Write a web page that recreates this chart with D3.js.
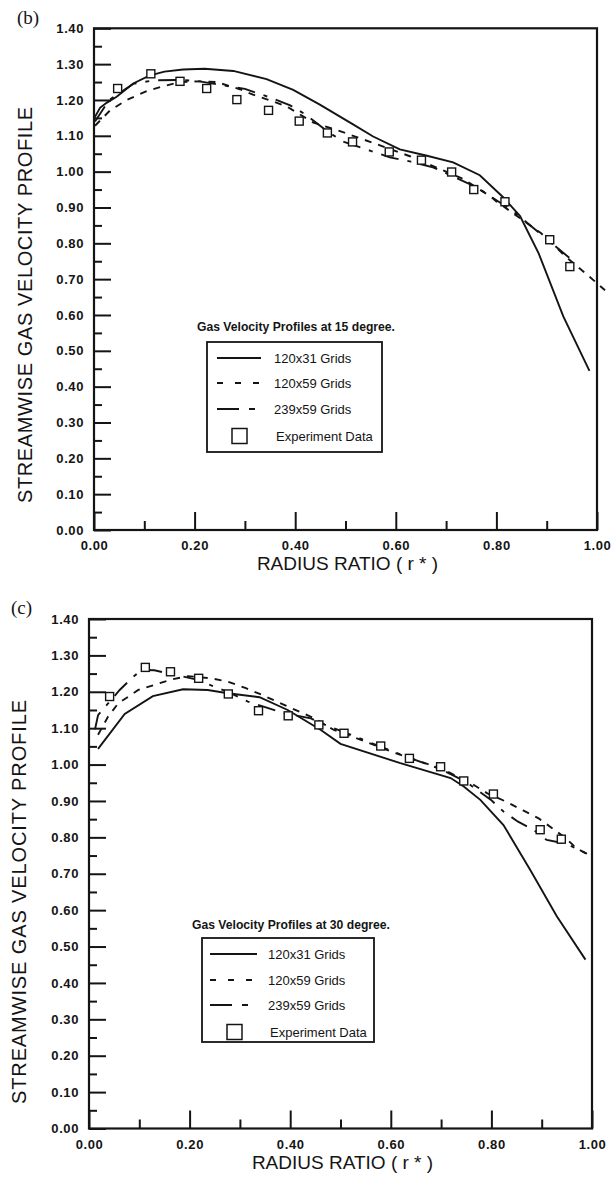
<!DOCTYPE html>
<html>
<head>
<meta charset="utf-8">
<script src="https://cdn.jsdelivr.net/npm/d3@7"></script>
<style>
  html, body { margin: 0; padding: 0; background: #fff; }
  svg { display: block; font-family: "Liberation Sans", Arial, sans-serif; }
</style>
</head>
<body>
<svg id="fig" width="615" height="1177"></svg>
<script>
// Axis ticks
const yMajor = [0, 0.1, 0.2, 0.3, 0.4, 0.5, 0.6, 0.7, 0.8, 0.9, 1.0, 1.1, 1.2, 1.3, 1.4];
const yMinor = [0.05, 0.15, 0.25, 0.35, 0.45, 0.55, 0.65, 0.75, 0.85, 0.95, 1.05, 1.15, 1.25, 1.35];
const xMajor = [0, 0.2, 0.4, 0.6, 0.8, 1.0];
const xMinor = [0.1, 0.3, 0.5, 0.7, 0.9];

const seriesNames = ["120x31 Grids", "120x59 Grids", "239x59 Grids", "Experiment Data"];

// 15 degree profiles: [radius ratio, velocity]
const grid120x31_15 = [[0,1.148],[0.012,1.178],[0.025,1.192],[0.045,1.209],[0.078,1.246],[0.11,1.268],[0.14,1.279],[0.177,1.285],[0.22,1.287],[0.277,1.281],[0.343,1.258],[0.396,1.228],[0.449,1.187],[0.515,1.132],[0.555,1.098],[0.608,1.062],[0.66,1.045],[0.714,1.026],[0.767,0.99],[0.814,0.928],[0.847,0.876],[0.884,0.772],[0.933,0.596],[0.985,0.444]];
const grid120x59_15 = [[0.002,1.128],[0.032,1.171],[0.065,1.2],[0.105,1.225],[0.137,1.238],[0.171,1.25],[0.21,1.252],[0.244,1.25],[0.29,1.23],[0.316,1.215],[0.35,1.199],[0.383,1.182],[0.436,1.137],[0.489,1.113],[0.563,1.076],[0.628,1.043],[0.68,1.012],[0.734,0.98],[0.79,0.929],[0.8,0.917],[0.855,0.862],[0.889,0.828],[0.937,0.764],[0.984,0.708],[1.016,0.669]];
const grid239x59_15 = [[0.002,1.14],[0.03,1.2],[0.078,1.245],[0.12,1.255],[0.171,1.256],[0.21,1.252],[0.277,1.236],[0.3,1.231],[0.35,1.207],[0.39,1.185],[0.42,1.16],[0.466,1.11],[0.497,1.083],[0.55,1.058],[0.588,1.04],[0.63,1.028],[0.674,1.012],[0.76,0.957],[0.833,0.89],[0.948,0.756]];
const experiment_15 = [[0.047,1.232],[0.113,1.273],[0.171,1.252],[0.224,1.232],[0.284,1.201],[0.347,1.171],[0.408,1.141],[0.464,1.108],[0.514,1.083],[0.587,1.055],[0.651,1.032],[0.711,0.999],[0.755,0.95],[0.817,0.916],[0.906,0.81],[0.946,0.735]];

// 30 degree profiles: [radius ratio, velocity]
const grid120x31_30 = [[0.018,1.043],[0.071,1.139],[0.127,1.188],[0.187,1.207],[0.236,1.205],[0.276,1.196],[0.339,1.185],[0.395,1.15],[0.461,1.095],[0.5,1.057],[0.619,1.004],[0.719,0.963],[0.745,0.94],[0.778,0.903],[0.824,0.834],[0.877,0.711],[0.93,0.583],[0.987,0.464]];
const grid120x59_30 = [[0.018,1.082],[0.038,1.132],[0.058,1.168],[0.098,1.205],[0.13,1.219],[0.164,1.234],[0.197,1.243],[0.243,1.237],[0.276,1.228],[0.312,1.21],[0.348,1.189],[0.388,1.164],[0.448,1.127],[0.487,1.095],[0.55,1.063],[0.6,1.036],[0.659,1.008],[0.699,0.99],[0.758,0.95],[0.792,0.921],[0.831,0.897],[0.863,0.874],[0.894,0.852],[0.927,0.819],[0.95,0.795],[0.969,0.77],[0.99,0.755]];
const grid239x59_30 = [[0.012,1.097],[0.018,1.136],[0.038,1.168],[0.061,1.205],[0.087,1.24],[0.104,1.26],[0.13,1.259],[0.17,1.247],[0.21,1.235],[0.276,1.2],[0.316,1.173],[0.388,1.141],[0.441,1.127],[0.461,1.114],[0.52,1.082],[0.58,1.049],[0.64,1.017],[0.7,0.987],[0.75,0.952],[0.8,0.902],[0.824,0.871],[0.853,0.843],[0.883,0.821],[0.91,0.793],[0.95,0.782],[0.99,0.755]];
const experiment_30 = [[0.041,1.187],[0.112,1.267],[0.162,1.255],[0.218,1.237],[0.277,1.194],[0.337,1.148],[0.396,1.134],[0.457,1.109],[0.507,1.086],[0.58,1.051],[0.637,1.017],[0.699,0.994],[0.745,0.955],[0.804,0.919],[0.897,0.821],[0.939,0.795]];

const ink = "#141414";
const svg = d3.select("#fig");

const panels = [
  {
    tag: "(b)", tagX: 17, tagY: 24,
    x0: 94, x1: 597, yT: 28.3, yB: 530,
    yTitleX: 32, yTitleY: 305, yTitleLen: 396,
    lines: [grid120x31_15, grid120x59_15, grid239x59_15], points: experiment_15,
    legendTitle: "Gas Velocity Profiles at 15 degree.",
    lg: { tx: 197, ty: 331, bx: 207, by: 342, bw: 175, bh: 110, rows: [358, 383, 409, 436], lx0: 217, lx1: 261, textX: 274, expX: 276, sqX: 232 }
  },
  {
    tag: "(c)", tagX: 11, tagY: 614,
    x0: 89, x1: 592, yT: 619, yB: 1128.5,
    yTitleX: 26, yTitleY: 902, yTitleLen: 404,
    lines: [grid120x31_30, grid120x59_30, grid239x59_30], points: experiment_30,
    legendTitle: "Gas Velocity Profiles at 30 degree.",
    lg: { tx: 192, ty: 929, bx: 202, by: 938, bw: 172, bh: 104, rows: [954, 980, 1005, 1032], lx0: 210, lx1: 257, textX: 268, expX: 270, sqX: 227 }
  }
];

const dashPlot = [null, "7,7", "18,9,4,9"];
const dashLegend = [null, "6,12", "22,10,6,10"];

panels.forEach(p => {
  const x = d3.scaleLinear().domain([0, 1]).range([p.x0, p.x1]);
  const y = d3.scaleLinear().domain([0, 1.4]).range([p.yB, p.yT]);
  const g = svg.append("g");

  // panel tag
  g.append("text").attr("x", p.tagX).attr("y", p.tagY)
    .attr("font-family", "'Liberation Serif', 'Times New Roman', serif")
    .attr("font-size", 19).attr("fill", ink).text(p.tag);

  // y axis ticks (inward)
  const yAx = g.append("g").attr("transform", `translate(${p.x0},0)`)
    .call(d3.axisLeft(y).tickValues(yMajor).tickSize(-17).tickPadding(10).tickFormat(d3.format(".2f")));
  const yAxMinor = g.append("g").attr("transform", `translate(${p.x0},0)`)
    .call(d3.axisLeft(y).tickValues(yMinor).tickSize(-8).tickFormat(""));
  // x axis ticks (inward)
  const xAx = g.append("g").attr("transform", `translate(0,${p.yB})`)
    .call(d3.axisBottom(x).tickValues(xMajor).tickSize(-18).tickPadding(11).tickFormat(d3.format(".2f")));
  const xAxMinor = g.append("g").attr("transform", `translate(0,${p.yB})`)
    .call(d3.axisBottom(x).tickValues(xMinor).tickSize(-9).tickFormat(""));

  [yAx, yAxMinor, xAx, xAxMinor].forEach(a => {
    a.select(".domain").remove();
    a.selectAll("line").attr("stroke", ink).attr("stroke-width", 2);
    a.selectAll("text").attr("fill", ink).attr("font-size", 13).attr("font-weight", "bold")
      .attr("font-family", "'Liberation Sans', Arial, sans-serif").attr("letter-spacing", "0.6px");
  });

  // frame
  g.append("rect").attr("x", p.x0).attr("y", p.yT)
    .attr("width", p.x1 - p.x0).attr("height", p.yB - p.yT)
    .attr("fill", "none").attr("stroke", ink).attr("stroke-width", 2.2);

  // axis titles
  g.append("text")
    .attr("transform", `translate(${p.yTitleX},${p.yTitleY}) rotate(-90)`)
    .attr("text-anchor", "middle").attr("font-size", 20).attr("fill", ink)
    .attr("textLength", p.yTitleLen).attr("lengthAdjust", "spacing")
    .text("STREAMWISE GAS VELOCITY PROFILE");
  g.append("text")
    .attr("x", (p.x0 + p.x1) / 2 + 2).attr("y", p.yB + 40)
    .attr("text-anchor", "middle").attr("font-size", 19).attr("fill", ink)
    .text("RADIUS RATIO ( r * )");

  // profile curves
  const line = d3.line().x(d => x(d[0])).y(d => y(d[1]));
  p.lines.forEach((s, i) => {
    g.append("path").datum(s).attr("d", line)
      .attr("fill", "none").attr("stroke", ink).attr("stroke-width", 1.9)
      .attr("stroke-dasharray", dashPlot[i]);
  });

  // experiment markers
  const sq = 8;
  g.selectAll(".exp").data(p.points).enter().append("rect")
    .attr("x", d => x(d[0]) - sq / 2).attr("y", d => y(d[1]) - sq / 2)
    .attr("width", sq).attr("height", sq)
    .attr("fill", "#fff").attr("stroke", ink).attr("stroke-width", 1.4);

  // legend
  const L = p.lg;
  g.append("text").attr("x", L.tx).attr("y", L.ty)
    .attr("font-size", 12).attr("font-weight", "bold").attr("fill", ink)
    .attr("textLength", 198).attr("lengthAdjust", "spacingAndGlyphs")
    .text(p.legendTitle);
  g.append("rect").attr("x", L.bx).attr("y", L.by).attr("width", L.bw).attr("height", L.bh)
    .attr("fill", "#fff").attr("stroke", ink).attr("stroke-width", 1.8);
  seriesNames.forEach((name, i) => {
    const ry = L.rows[i];
    if (i < 3) {
      g.append("line").attr("x1", L.lx0).attr("x2", L.lx1).attr("y1", ry).attr("y2", ry)
        .attr("stroke", ink).attr("stroke-width", 1.9).attr("stroke-dasharray", dashLegend[i]);
    } else {
      g.append("rect").attr("x", L.sqX).attr("y", ry - 7.5).attr("width", 15).attr("height", 15)
        .attr("fill", "#fff").attr("stroke", ink).attr("stroke-width", 1.5);
    }
    g.append("text").attr("x", i < 3 ? L.textX : L.expX).attr("y", ry + 4.5)
      .attr("font-size", 13).attr("fill", ink).text(name);
  });
});
</script>
</body>
</html>
